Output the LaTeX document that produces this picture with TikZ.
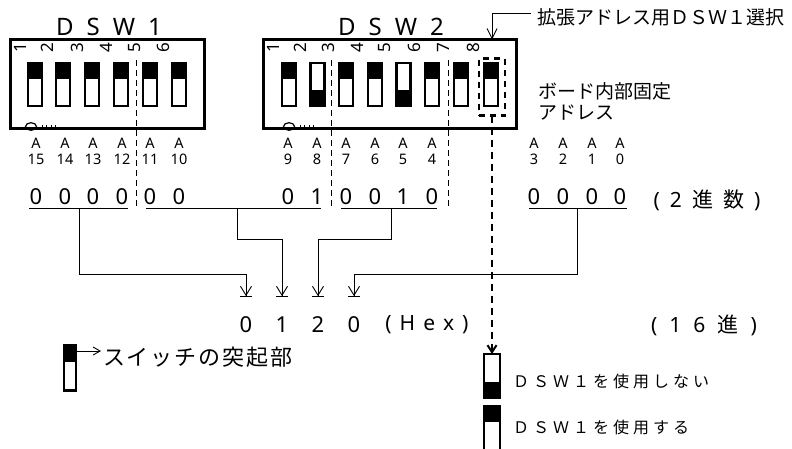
\documentclass[tikz,border=0pt]{standalone}
\usepackage{fontspec}
\usepackage{graphicx}
\setmainfont{Noto Sans}
\newfontfamily\jp{Noto Sans CJK JP}
\usetikzlibrary{arrows.meta}
\ExplSyntaxOn
\NewDocumentCommand\ls{mm}{\tl_map_inline:nn{#2}{{##1}\kern#1\relax}\kern-#1\relax}
\ExplSyntaxOff
\newcommand\fs[1]{\fontsize{#1}{#1}\selectfont}
\newcommand\offmk[1]{%
  \draw[line width=1.2pt] (#1,126.5) ellipse (5.5 and 3.8);
  \draw[line width=0.8pt] (#1+11,125) -- (#1+11,130) (#1+15,125) -- (#1+15,130)
     (#1+20,125) -- (#1+20,130) (#1+24,125) -- (#1+24,130);
}
\begin{document}
\begin{tikzpicture}[x=1pt,y=-1pt,
 every node/.style={inner sep=0pt,outer sep=0pt},
 dswbox/.style={draw,line width=2.8pt},
 sw/.style={draw,line width=2.2pt,minimum width=14pt,minimum height=43pt},
 swtop/.style={sw,path picture={\fill (path picture bounding box.north west) rectangle ([yshift=-16pt]path picture bounding box.north east);}},
 swbot/.style={sw,path picture={\fill (path picture bounding box.south west) rectangle ([yshift=16pt]path picture bounding box.south east);}},
 thindash/.style={line width=1pt,dash pattern=on 6pt off 4pt},
 thickdash/.style={line width=2.8pt,dash pattern=on 7pt off 5pt},
 conn/.style={line width=0.9pt},
 hexarr/.style={-{Straight Barb[length=9pt,width=11pt]Bar[width=12pt]}},
 barb/.style={-{Straight Barb[length=10pt,width=10pt]}},
 numlbl/.style={font=\fs{17}},
 addr/.style={font=\fs{14.5}},
 bit/.style={font=\fs{22}},
]
\useasboundingbox (0,0) rectangle (792,448);

% DIP switch housings
\node[dswbox,minimum width=194pt,minimum height=89pt] (dsw1) at (107.5,84) {};
\node[dswbox,minimum width=253pt,minimum height=89pt] (dsw2) at (390,84) {};
\node[font=\fs{24}] (t1) at (109,27) {\ls{13pt}{DSW1}};
\node[font=\fs{24}] (t2) at (391,27) {\ls{13pt}{DSW2}};

% switch numbers (printed sideways)
\foreach \i/\x in {1/20,2/47,3/77,4/106,5/135,6/163}
  \node[numlbl] (p\i) at (\x,48) {\rotatebox{90}{\i}};
\foreach \i/\x in {1/273,2/300,3/328,4/357,5/385,6/414,7/443,8/473}
  \node[numlbl] (q\i) at (\x,48) {\rotatebox{90}{\i}};

% switches
\foreach \i/\x in {1/35,2/63,3/92,4/121,5/150,6/179}
  \node[swtop] (sa\i) at (\x,84.5) {};
\foreach \i/\x/\s in {1/289/swtop,2/317.5/swbot,3/346/swtop,4/375/swtop,5/403.5/swbot,6/432/swtop,7/461/swtop,8/491/swtop}
  \node[\s] (sb\i) at (\x,84.5) {};

\offmk{31}
\offmk{289}

% selection frame around DSW2-8
\node[draw,line width=2.4pt,dash pattern=on 6pt off 5pt,minimum width=26pt,minimum height=57pt] (sel) at (492,87) {};

% separators
\draw[thindash] (136,60) -- (136,207);
\draw[thindash] (331,60) -- (331,207);
\draw[thindash] (448,60) -- (448,207);

% address labels and bits
\foreach \n/\x/\v in {15/36/0,14/65/0,13/93/0,12/122/0,11/150/0,10/179/0,9/288/0,8/317/1,7/346/0,6/375/0,5/403/1,4/432/0,3/534/0,2/563/0,1/592/0,0/620/0}{
  \node[addr] (a\n) at (\x,143) {A};
  \node[addr] (n\n) at (\x,159) {\n};
  \node[bit] (b\n) at (\x,197) {\v};
}
\draw[conn] (29,208) -- (128,208);
\draw[conn] (146,208) -- (321,208);
\draw[conn] (341,208) -- (437,208);
\draw[conn] (529,208) -- (627,208);
\node[font=\fs{21}] (bin) at (707,200) {\ls{10pt}{(2{\jp 進}{\jp 数})}};

% hex row
\node[bit] (h3) at (246,325) {0};
\node[bit] (h2) at (282,325) {1};
\node[bit] (h1) at (318,325) {2};
\node[bit] (h0) at (354,325) {0};
\node[font=\fs{21}] (hl) at (427,325) {\ls{8pt}{(Hex)}};
\node[font=\fs{21}] (hx) at (704,325) {\ls{12pt}{(16{\jp 進})}};

\coordinate (s1) at (79,208);
\coordinate (s2) at (237,208);
\coordinate (s3) at (391,208);
\coordinate (s4) at (577,208);
\coordinate (e3) at (246,297);
\coordinate (e2) at (282,297);
\coordinate (e1) at (318,297);
\coordinate (e0) at (354,297);
\draw[conn,hexarr] (s1) |- ([yshift=23pt]e3) -- (e3);
\draw[conn,hexarr] (s2) |- ([yshift=58pt]e2) -- (e2);
\draw[conn,hexarr] (s3) |- ([yshift=58pt]e1) -- (e1);
\draw[conn,hexarr] (s4) |- ([yshift=23pt]e0) -- (e0);

% callout
\node[anchor=west,font=\jp\fs{19}] (cl) at (537,17) {拡張アドレス用ＤＳＷ１選択};
\coordinate (k) at (531,13);
\draw[conn,barb] (k) -| (sel |- dsw2.north);
\node[anchor=north west,align=left,font=\jp\fontsize{19}{21}\selectfont] (bd) at (538,83) {ボード内部固定\\アドレス};

% legends
\node[swtop,minimum width=12pt,minimum height=45pt] (lg0) at (70,368) {};
\node[anchor=west,font=\jp\fs{22}] (lgt) at (103,357) {\ls{2pt}{スイッチの突起部}};
\coordinate (ar) at (101,351);
\draw[conn,-{Straight Barb[length=7pt,width=8pt]}] (lg0.north east |- ar) -- (ar);

\node[swbot,minimum width=16pt,minimum height=44pt] (lg1) at (492,376) {};
\node[swtop,minimum width=16pt,minimum height=44pt] (lg2) at (492,428) {};
\node[anchor=west,font=\jp\fs{16}] (lt1) at (513,381) {\ls{4pt}{ＤＳＷ１を使用しない}};
\node[anchor=west,font=\jp\fs{16}] (lt2) at (513,427) {\ls{4pt}{ＤＳＷ１を使用する}};

\draw[thickdash,-{Straight Barb[length=7pt,width=9pt,line width=2pt]}] (sel.south) -- (lg1.north);
\end{tikzpicture}
\end{document}
